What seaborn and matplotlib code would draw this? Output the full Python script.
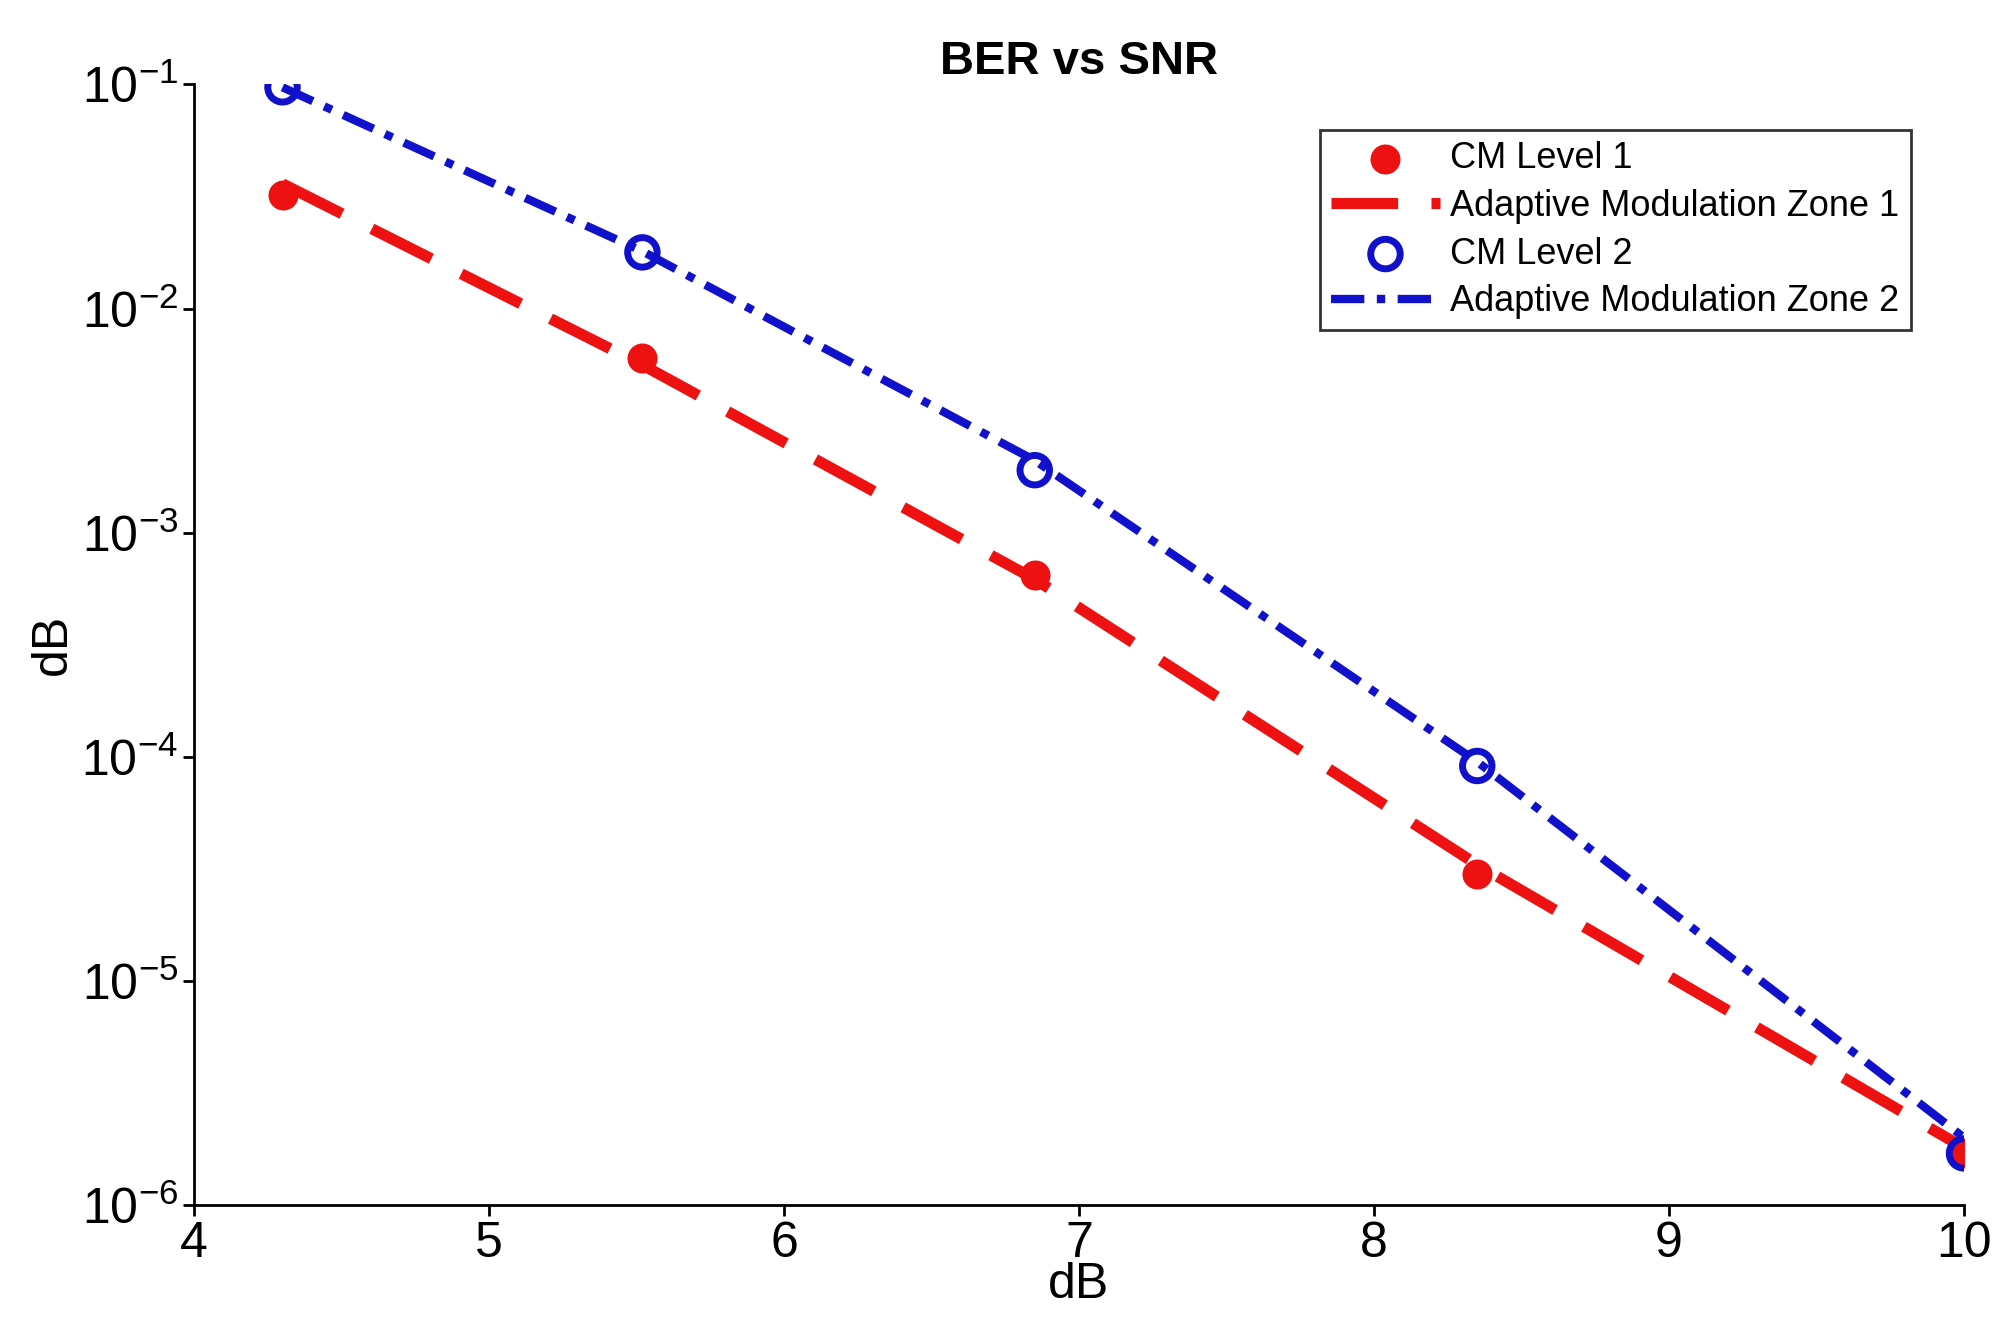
import matplotlib
matplotlib.use("Agg")
import matplotlib.pyplot as plt
import seaborn as sns
import pandas as pd

snr = [4.3, 5.52, 6.85, 8.35, 10.0]
cm1 = [0.032, 0.006, 6.5e-4, 3.0e-5, 1.7e-6]
am1 = [0.036, 0.0056, 6.2e-4, 3.3e-5, 1.8e-6]
cm2 = [0.097, 0.0178, 0.0019, 9.1e-5, 1.7e-6]
am2 = [0.097, 0.018, 0.0021, 9.5e-5, 2.0e-6]

df = pd.DataFrame({"snr": snr, "cm1": cm1, "am1": am1, "cm2": cm2, "am2": am2})

sns.set_style("ticks")
plt.rcParams.update({"font.family": "Liberation Sans", "text.color": "black",
                     "axes.labelcolor": "black", "xtick.color": "black", "ytick.color": "black",
                     "mathtext.fontset": "custom", "mathtext.rm": "Liberation Sans"})
fig = plt.figure(figsize=(20, 13.39), dpi=100)
ax = fig.add_axes([0.097, 0.1, 0.885, 0.837])

sns.scatterplot(data=df, x="snr", y="cm1", ax=ax, color="#ee1111", s=400, edgecolor="#ee1111", label="CM Level 1", zorder=3)
sns.lineplot(data=df, x="snr", y="am1", ax=ax, color="#ee1111", lw=8, label="Adaptive Modulation Zone 1", zorder=2)
ax.lines[-1].set_dashes([6, 3])
sns.scatterplot(data=df, x="snr", y="cm2", ax=ax, facecolor="none", edgecolor="#1111cc", linewidth=5, s=450, label="CM Level 2", zorder=4)
sns.lineplot(data=df, x="snr", y="am2", ax=ax, color="#1111cc", lw=6, label="Adaptive Modulation Zone 2", zorder=2)
ax.lines[-1].set_dashes([4, 1.5, 1, 1.5])

ax.set_yscale("log")
ax.set_xlim(4, 10)
ax.set_ylim(1e-6, 1e-1)
ax.set_xticks([4, 5, 6, 7, 8, 9, 10])
ax.minorticks_off()
ax.tick_params(labelsize=36, width=2, length=8)
ax.set_xlabel("dB", fontsize=36, labelpad=-4)
ax.set_ylabel("dB", fontsize=36)
ax.set_title("BER vs SNR", fontsize=34, fontweight="bold")
for s in ["left", "bottom"]:
    ax.spines[s].set_linewidth(2)
    ax.spines[s].set_color("black")
sns.despine(ax=ax)
leg = ax.legend(fontsize=26, loc="upper right", bbox_to_anchor=(0.98, 0.975), frameon=True, fancybox=False,
                edgecolor="black", handlelength=3, borderpad=0.3, labelspacing=0.35, handletextpad=0.3)
leg.get_frame().set_linewidth(2)
fig.savefig("out.png", dpi=100)
